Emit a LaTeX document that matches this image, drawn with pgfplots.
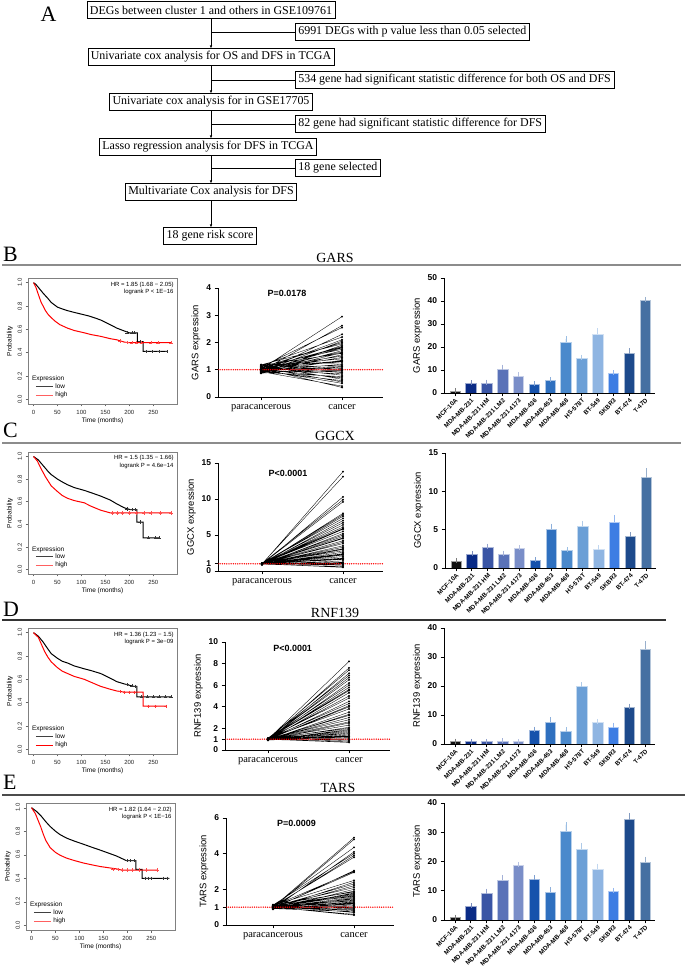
\documentclass[border=0pt]{standalone}
\usepackage{pgfplots}
\pgfplotsset{compat=1.18}
\usepackage{fontspec}
\setmainfont{Liberation Serif}
\setsansfont{Liberation Sans}
\usetikzlibrary{arrows.meta}
\definecolor{c1}{HTML}{111111}
\definecolor{c2}{HTML}{0A2B86}
\definecolor{c3}{HTML}{3A55A5}
\definecolor{c4}{HTML}{5A72B8}
\definecolor{c5}{HTML}{7A8EC8}
\definecolor{c6}{HTML}{1652AC}
\definecolor{c7}{HTML}{2F70BF}
\definecolor{c8}{HTML}{4A89CC}
\definecolor{c9}{HTML}{6B9FD6}
\definecolor{c10}{HTML}{8FB5E2}
\definecolor{c11}{HTML}{3D7DE3}
\definecolor{c12}{HTML}{1D4A8C}
\definecolor{c13}{HTML}{4570A2}
\definecolor{lightred}{HTML}{FF6060}
\pgfplotsset{
 /pgf/number format/assume math mode=true,
 km/.style={scale only axis, width=149bp, anchor=south west,
  xmin=-11.5, xmax=299.5, ymin=-0.04, ymax=1.04,
  xtick={0,50,100,150,200,250}, ytick={0,0.2,0.4,0.6,0.8,1},
  xtick pos=bottom, ytick pos=left,
  tick label style={font=\sffamily\fontsize{6}{6}\selectfont, text=black!85},
  yticklabel style={rotate=90, anchor=south, /pgf/number format/fixed, /pgf/number format/fixed zerofill, /pgf/number format/precision=1},
  axis line style={black!50, line width=0.5pt},
  tick style={black!60, line width=0.4pt},
  tick align=outside, major tick length=2.5bp,
  xlabel={Time (months)}, ylabel={Probability},
  label style={font=\sffamily\fontsize{6.5}{7}\selectfont},
  xlabel style={yshift=3bp}, ylabel style={yshift=-2bp},
  legend style={at={(0.04,0.02)}, anchor=south west, draw=none, fill=none, font=\sffamily\fontsize{6.5}{7}\selectfont, row sep=-1.5pt, inner sep=1pt},
  legend cell align=left},
 pair/.style={scale only axis, anchor=south west,
  axis x line*=bottom, axis y line*=left,
  axis line style={line width=0.9pt},
  xtick={0,1}, xticklabels={paracancerous,cancer},
  x tick label style={font=\rmfamily\fontsize{10.5}{11}\selectfont, yshift=-1bp},
  y tick label style={font=\sffamily\bfseries\fontsize{8.5}{9}\selectfont},
  tick align=outside, major tick length=3.5bp, tick style={black, line width=0.9pt},
  ylabel style={font=\sffamily\fontsize{9.5}{10}\selectfont, yshift=-1bp}},
 bars/.style={scale only axis, anchor=south west, width=211bp, xmin=-0.695, xmax=12.63, ymin=0,
  axis x line*=bottom, axis y line*=left,
  axis line style={line width=0.9pt},
  tick align=outside, major tick length=3.5bp, tick style={black, line width=0.9pt},
  xtick={0,...,12},
  xticklabels={MCF-10A,MDA-MB-231,MDA-MB-231 HM,MDA-MB-231 LM2,MDA-MB-231 4173,MDA-MB-436,MDA-MB-453,MDA-MB-468,HS-578T,BT-549,SKBR3,BT-474,T-47D},
  x tick label style={rotate=45, anchor=north east, font=\sffamily\bfseries\fontsize{6.3}{7}\selectfont, inner sep=1pt},
  y tick label style={font=\sffamily\bfseries\fontsize{8.5}{9}\selectfont},
  ylabel style={font=\sffamily\fontsize{9.5}{10}\selectfont, yshift=-1bp}}
}
\tikzset{refline/.style={draw=red, line width=1.5pt, line cap=round, dash pattern=on 0pt off 2.2pt}}
\newcommand{\bb}[4]{\addplot[ybar, bar shift=0pt, bar width=10.5bp, fill=#1, draw=#1!40!white, line width=0.5pt, error bars/.cd, y dir=plus, y explicit, error bar style={draw=#1!55!white, line width=0.7pt}, error mark options={draw=#1!55!white, line width=0.7pt, mark size=2.5bp}] coordinates {(#2,#3) +- (0,#4)};}
\begin{document}
\begin{tikzpicture}[x=1bp,y=1bp]
\path[use as bounding box] (0,0) rectangle (685,970);
% ---------- Panel A flowchart
\tikzset{fbox/.style={draw, line width=0.6pt, inner xsep=3bp, inner ysep=0pt, minimum height=17bp, font=\rmfamily\fontsize{12}{14}\selectfont},
 arr/.style={-{Latex[length=3bp,width=2.5bp]}, line width=0.6pt}}
\node[anchor=base west, font=\rmfamily\fontsize{22}{22}\selectfont] at (37,948) {A};
\node[fbox] (b1) at (211,960) {DEGs between cluster 1 and others in GSE109761};
\node[fbox, anchor=west] (b2) at (295,938) {6991 DEGs with p value less than 0.05 selected};
\node[fbox] (b3) at (211,913) {Univariate cox analysis for OS and DFS in TCGA};
\node[fbox, anchor=west] (b4) at (295,890) {534 gene had significant statistic difference for both OS and DFS};
\node[fbox] (b5) at (211,868) {Univariate cox analysis for in GSE17705};
\node[fbox, anchor=west] (b6) at (295,846) {82 gene had significant statistic difference for DFS};
\node[fbox] (b7) at (208,823) {Lasso regression analysis for DFS in TCGA};
\node[fbox, anchor=west] (b8) at (295,802) {18 gene selected};
\node[fbox] (b9) at (211,778) {Multivariate Cox analysis for DFS};
\node[fbox] (b10) at (210,734) {18 gene risk score};
\draw[arr] (211,951.5) -- (211,921.5);
\draw[arr] (211,904.5) -- (211,876.5);
\draw[arr] (211,859.5) -- (211,831.5);
\draw[arr] (211,814.5) -- (211,786.5);
\draw[arr] (211,769.5) -- (211,742.5);
\draw[line width=0.6pt] (211,938) -- (b2.west);
\draw[line width=0.6pt] (211,890) -- (b4.west);
\draw[line width=0.6pt] (211,846) -- (b6.west);
\draw[line width=0.6pt] (211,802) -- (b8.west);
% ---------- section headers
\tikzset{sep/.style={line width=1.3pt}, gt/.style={anchor=south, font=\rmfamily\fontsize{14}{14}\selectfont, inner sep=1.5bp}, pl/.style={anchor=base west, font=\rmfamily\fontsize{22}{22}\selectfont, inner sep=0pt}}
\draw[sep, black!45] (2,705) -- (681,705);
\node[gt] at (335,705.5) {GARS};
\node[pl] at (3,708) {B};
\draw[sep, black!45] (2,527) -- (681,527);
\node[gt] at (335,527.5) {GGCX};
\node[pl] at (3,532) {C};
\draw[sep, black!80] (2,350) -- (666,350);
\node[gt] at (335,350.5) {RNF139};
\node[pl] at (3,353) {D};
\draw[sep, black!70] (2,175) -- (685,175);
\node[gt] at (338,175.5) {TARS};
\node[pl] at (3,180) {E};
% ================= B =================
\begin{axis}[km, at={(28bp,566bp)}, height=126bp]
\addlegendimage{black!75, line width=0.8pt}
\addlegendimage{lightred, line width=1.2pt}
\addplot[black, line width=1pt] coordinates {(0,1) (5,0.985) (10,0.96) (15,0.935) (20,0.91) (30,0.865) (37,0.83) (50,0.79) (60,0.775) (71,0.76) (85,0.745) (100,0.73) (115,0.715) (130,0.695) (140,0.68) (150,0.66) (160,0.64) (174,0.61) (190,0.585) (200,0.57) (217,0.57) (217,0.495) (229,0.495) (229,0.41) (280,0.41)};
\addplot[red, line width=1pt] coordinates {(0,1) (5,0.96) (10,0.9) (16,0.83) (20,0.8) (25,0.76) (30,0.73) (37,0.70) (45,0.67) (55,0.64) (71,0.61) (85,0.59) (106,0.57) (120,0.555) (140,0.54) (160,0.52) (174,0.51) (190,0.49) (200,0.485) (288,0.485)};
\addplot[only marks, mark=+, mark size=1.6bp, black!80] coordinates {(195,0.57) (205,0.57) (210,0.57) (222,0.495) (236,0.41) (248,0.41) (262,0.41) (278,0.41)};
\addplot[only marks, mark=+, mark size=1.6bp, red!70] coordinates {(180,0.5) (195,0.487) (205,0.485) (215,0.485) (225,0.485) (245,0.485) (260,0.485) (287,0.485)};
\legend{low,high}
\node[anchor=north east, align=right, font=\sffamily\fontsize{6}{7.5}\selectfont, inner sep=1pt] at (rel axis cs:0.985,0.98) {HR = 1.85 (1.68 − 2.05)\\logrank P < 1E−16};
\node[anchor=west, font=\sffamily\fontsize{6.5}{7}\selectfont, inner sep=1pt] at (rel axis cs:0.02,0.2) {Expression};
\end{axis}
\begin{axis}[pair, at={(218bp,573bp)}, width=165bp, height=109bp, xmin=-0.531, xmax=1.506, ymin=0, ymax=4, ytick={0,1,2,3,4}, ylabel={GARS expression}]
\addplot[black, line width=0.35pt, mark=*, mark size=0.8bp, mark options={solid}, unbounded coords=jump] coordinates {
(0,1.02) (1,2.95) (0,nan) (0,0.95) (1,2.62) (0,nan) (0,1.10) (1,2.55) (0,nan) (0,0.90) (1,2.30) (0,nan)
(0,1.15) (1,2.20) (0,nan) (0,1.00) (1,2.10) (0,nan) (0,0.92) (1,2.05) (0,nan) (0,1.08) (1,2.00) (0,nan)
(0,1.18) (1,1.95) (0,nan) (0,0.88) (1,1.90) (0,nan) (0,1.05) (1,1.85) (0,nan) (0,0.97) (1,1.80) (0,nan)
(0,1.12) (1,1.75) (0,nan) (0,0.93) (1,1.70) (0,nan) (0,1.03) (1,1.65) (0,nan) (0,1.16) (1,1.60) (0,nan)
(0,0.89) (1,1.55) (0,nan) (0,1.07) (1,1.50) (0,nan) (0,0.98) (1,1.45) (0,nan) (0,1.13) (1,1.40) (0,nan)
(0,0.91) (1,1.35) (0,nan) (0,1.04) (1,1.30) (0,nan) (0,1.19) (1,1.25) (0,nan) (0,0.96) (1,1.20) (0,nan)
(0,1.09) (1,1.15) (0,nan) (0,0.87) (1,1.10) (0,nan) (0,1.01) (1,1.05) (0,nan) (0,1.14) (1,1.00) (0,nan)
(0,0.94) (1,0.95) (0,nan) (0,1.06) (1,0.90) (0,nan) (0,0.99) (1,0.85) (0,nan) (0,1.11) (1,0.80) (0,nan)
(0,0.90) (1,0.75) (0,nan) (0,1.03) (1,0.70) (0,nan) (0,1.17) (1,0.65) (0,nan) (0,0.95) (1,0.60) (0,nan)
(0,1.08) (1,0.55) (0,nan) (0,1.00) (1,0.50) (0,nan) (0,0.93) (1,0.40) (0,nan) (0,1.05) (1,0.35) (0,nan)
(0,0.97) (1,1.12) (0,nan) (0,1.10) (1,1.32) (0,nan) (0,0.92) (1,1.62) (0,nan) (0,1.06) (1,1.82) (0,nan)
(0,1.01) (1,0.98)};
\addplot[refline] coordinates {(-0.531,1) (1.506,1)};
\node[font=\sffamily\bfseries\fontsize{9}{10}\selectfont] at (rel axis cs:0.418,0.954) {P=0.0178};
\end{axis}
\begin{axis}[bars, at={(444bp,577bp)}, height=115bp, ymax=50, ytick={0,10,20,30,40,50}, ylabel={GARS expression}]
\bb{c1}{0}{0.8}{0.3}
\bb{c2}{1}{4.2}{0.3}
\bb{c3}{2}{4.3}{0.4}
\bb{c4}{3}{10.5}{0.7}
\bb{c5}{4}{7.3}{0.7}
\bb{c6}{5}{3.8}{0.2}
\bb{c7}{6}{5.5}{0.3}
\bb{c8}{7}{22.1}{1.4}
\bb{c9}{8}{15.3}{0.3}
\bb{c10}{9}{25.7}{1.3}
\bb{c11}{10}{8.5}{0.3}
\bb{c12}{11}{17.1}{1.3}
\bb{c13}{12}{40.2}{0.5}
\end{axis}
% ================= C =================
\begin{axis}[km, at={(28bp,396bp)}, height=122bp]
\addlegendimage{black!75, line width=0.8pt}
\addlegendimage{lightred, line width=1.2pt}
\addplot[black, line width=1pt] coordinates {(0,1) (10,0.97) (20,0.92) (30,0.87) (37,0.84) (50,0.80) (60,0.775) (71,0.75) (85,0.725) (106,0.70) (120,0.68) (140,0.65) (160,0.615) (174,0.58) (190,0.545) (202,0.53) (216,0.53) (216,0.42) (229,0.42) (229,0.28) (262,0.28)};
\addplot[red, line width=1pt] coordinates {(0,1) (8,0.96) (16,0.89) (25,0.82) (37,0.74) (50,0.69) (60,0.655) (71,0.63) (85,0.61) (106,0.59) (120,0.56) (140,0.525) (161,0.50) (288,0.50)};
\addplot[only marks, mark=+, mark size=1.6bp, black!80] coordinates {(195,0.535) (205,0.53) (212,0.53) (222,0.42) (240,0.28) (255,0.28) (262,0.28)};
\addplot[only marks, mark=+, mark size=1.6bp, red!70] coordinates {(165,0.5) (175,0.5) (185,0.5) (200,0.5) (215,0.5) (230,0.5) (245,0.5) (265,0.5) (287,0.5)};
\legend{low,high}
\node[anchor=north east, align=right, font=\sffamily\fontsize{6}{7.5}\selectfont, inner sep=1pt] at (rel axis cs:0.985,0.98) {HR = 1.5 (1.35 − 1.66)\\logrank P = 4.6e−14};
\node[anchor=west, font=\sffamily\fontsize{6.5}{7}\selectfont, inner sep=1pt] at (rel axis cs:0.02,0.2) {Expression};
\end{axis}
\begin{axis}[pair, at={(218bp,399bp)}, width=165bp, height=108bp, xmin=-0.543, xmax=1.494, ymin=0, ymax=15, ytick={0,1,5,10,15}, ylabel={GGCX expression}]
\addplot[black, line width=0.35pt, mark=*, mark size=0.8bp, mark options={solid}, unbounded coords=jump] coordinates {
(0,0.95) (1,13.8) (0,nan) (0,1.00) (1,13.1) (0,nan) (0,0.90) (1,10.3) (0,nan) (0,1.05) (1,9.9) (0,nan)
(0,0.98) (1,9.6) (0,nan) (0,0.92) (1,8.0) (0,nan) (0,1.02) (1,7.8) (0,nan) (0,0.96) (1,7.6) (0,nan)
(0,1.08) (1,7.3) (0,nan) (0,0.90) (1,7.0) (0,nan) (0,1.00) (1,6.7) (0,nan) (0,0.94) (1,6.4) (0,nan)
(0,1.04) (1,6.1) (0,nan) (0,0.97) (1,5.8) (0,nan) (0,1.06) (1,5.5) (0,nan) (0,0.91) (1,5.2) (0,nan)
(0,1.01) (1,5.0) (0,nan) (0,0.95) (1,4.8) (0,nan) (0,1.03) (1,4.5) (0,nan) (0,0.99) (1,4.2) (0,nan)
(0,0.93) (1,4.0) (0,nan) (0,1.05) (1,3.8) (0,nan) (0,0.97) (1,3.5) (0,nan) (0,1.00) (1,3.3) (0,nan)
(0,0.92) (1,3.0) (0,nan) (0,1.07) (1,2.8) (0,nan) (0,0.96) (1,2.6) (0,nan) (0,1.02) (1,2.4) (0,nan)
(0,0.94) (1,2.2) (0,nan) (0,1.00) (1,2.0) (0,nan) (0,0.98) (1,1.8) (0,nan) (0,1.04) (1,1.6) (0,nan)
(0,0.93) (1,1.4) (0,nan) (0,1.01) (1,1.2) (0,nan) (0,0.97) (1,1.0) (0,nan) (0,1.03) (1,0.8) (0,nan)
(0,0.95) (1,0.6) (0,nan) (0,1.00) (1,0.5) (0,nan) (0,0.96) (1,4.6) (0,nan) (0,1.02) (1,3.1) (0,nan)
(0,0.99) (1,2.3) (0,nan) (0,0.94) (1,1.7) (0,nan) (0,1.05) (1,5.9) (0,nan) (0,0.98) (1,1.1) (0,nan)
(0,1.01) (1,0.9)};
\addplot[refline] coordinates {(-0.543,1) (1.494,1)};
\node[font=\sffamily\bfseries\fontsize{9}{10}\selectfont] at (rel axis cs:0.424,0.907) {P<0.0001};
\end{axis}
\begin{axis}[bars, at={(445bp,402bp)}, height=115bp, ymax=15, ytick={0,5,10,15}, ylabel={GGCX expression}]
\bb{c1}{0}{0.9}{0.05}
\bb{c2}{1}{1.8}{0.05}
\bb{c3}{2}{2.65}{0.2}
\bb{c4}{3}{1.85}{0.1}
\bb{c5}{4}{2.6}{0.1}
\bb{c6}{5}{1.0}{0.1}
\bb{c7}{6}{5.1}{0.35}
\bb{c8}{7}{2.3}{0.1}
\bb{c9}{8}{5.45}{0.4}
\bb{c10}{9}{2.5}{0.15}
\bb{c11}{10}{6.0}{0.6}
\bb{c12}{11}{4.1}{0.25}
\bb{c13}{12}{11.8}{0.9}
\end{axis}
% ================= D =================
\begin{axis}[km, at={(28bp,216bp)}, height=126bp]
\addlegendimage{black!75, line width=0.8pt}
\addlegendimage{red, line width=1.2pt}
\addplot[black, line width=1pt] coordinates {(0,1) (10,0.97) (20,0.92) (30,0.86) (37,0.82) (50,0.78) (60,0.755) (71,0.74) (85,0.715) (106,0.69) (120,0.675) (140,0.65) (160,0.61) (174,0.58) (190,0.56) (209,0.54) (216,0.54) (216,0.45) (288,0.45)};
\addplot[red, line width=1pt] coordinates {(0,1) (10,0.96) (23,0.84) (30,0.79) (37,0.75) (50,0.70) (60,0.67) (71,0.65) (85,0.625) (106,0.60) (120,0.575) (140,0.54) (160,0.515) (174,0.50) (190,0.49) (229,0.49) (229,0.37) (277,0.37)};
\addplot[only marks, mark=+, mark size=1.6bp, black!80] coordinates {(195,0.555) (205,0.545) (212,0.54) (225,0.45) (238,0.45) (250,0.45) (262,0.45) (275,0.45) (287,0.45)};
\addplot[only marks, mark=+, mark size=1.6bp, red!80] coordinates {(180,0.495) (190,0.49) (200,0.49) (210,0.49) (240,0.37) (255,0.37) (276,0.37)};
\legend{low,high}
\node[anchor=north east, align=right, font=\sffamily\fontsize{6}{7.5}\selectfont, inner sep=1pt] at (rel axis cs:0.985,0.98) {HR = 1.36 (1.23 − 1.5)\\logrank P = 3e−09};
\node[anchor=west, font=\sffamily\fontsize{6.5}{7}\selectfont, inner sep=1pt] at (rel axis cs:0.02,0.2) {Expression};
\end{axis}
\begin{axis}[pair, at={(225bp,220bp)}, width=165bp, height=108bp, xmin=-0.531, xmax=1.506, ymin=0, ymax=10, ytick={0,1,2,4,6,8,10}, ylabel={RNF139 expression}]
\addplot[black, line width=0.35pt, mark=*, mark size=0.8bp, mark options={solid}, unbounded coords=jump] coordinates {
(0,1.00) (1,8.2) (0,nan) (0,0.95) (1,7.6) (0,nan) (0,1.05) (1,7.4) (0,nan) (0,0.90) (1,7.1) (0,nan)
(0,1.10) (1,6.9) (0,nan) (0,0.98) (1,6.7) (0,nan) (0,1.02) (1,6.5) (0,nan) (0,0.93) (1,6.2) (0,nan)
(0,1.07) (1,6.0) (0,nan) (0,0.96) (1,5.8) (0,nan) (0,1.04) (1,5.5) (0,nan) (0,0.91) (1,5.3) (0,nan)
(0,1.00) (1,5.0) (0,nan) (0,1.08) (1,4.8) (0,nan) (0,0.95) (1,4.5) (0,nan) (0,1.03) (1,4.3) (0,nan)
(0,0.97) (1,4.0) (0,nan) (0,1.06) (1,3.8) (0,nan) (0,0.92) (1,3.5) (0,nan) (0,1.01) (1,3.2) (0,nan)
(0,0.99) (1,3.0) (0,nan) (0,1.04) (1,2.8) (0,nan) (0,0.94) (1,2.5) (0,nan) (0,1.02) (1,2.3) (0,nan)
(0,0.97) (1,2.1) (0,nan) (0,1.05) (1,2.0) (0,nan) (0,0.93) (1,1.9) (0,nan) (0,1.00) (1,1.8) (0,nan)
(0,0.96) (1,1.6) (0,nan) (0,1.03) (1,1.5) (0,nan) (0,0.98) (1,1.4) (0,nan) (0,1.06) (1,1.3) (0,nan)
(0,0.92) (1,1.2) (0,nan) (0,1.01) (1,1.1) (0,nan) (0,0.95) (1,1.0) (0,nan) (0,1.04) (1,0.9) (0,nan)
(0,0.97) (1,0.8) (0,nan) (0,1.00) (1,0.7) (0,nan) (0,0.94) (1,3.3) (0,nan) (0,1.02) (1,2.6) (0,nan)
(0,0.99) (1,1.7) (0,nan) (0,1.05) (1,5.6) (0,nan) (0,0.96) (1,4.1) (0,nan) (0,1.00) (1,1.25)};
\addplot[refline] coordinates {(-0.531,1) (1.506,1)};
\node[font=\sffamily\bfseries\fontsize{9}{10}\selectfont] at (rel axis cs:0.41,0.944) {P<0.0001};
\end{axis}
\begin{axis}[bars, at={(444bp,226bp)}, height=116bp, ymax=40, ytick={0,10,20,30,40}, ylabel={RNF139 expression}]
\bb{c1}{0}{0.9}{0.1}
\bb{c2}{1}{0.8}{0.1}
\bb{c3}{2}{0.8}{0.1}
\bb{c4}{3}{1.0}{0.1}
\bb{c5}{4}{0.8}{0.1}
\bb{c6}{5}{4.8}{0.35}
\bb{c7}{6}{7.6}{0.7}
\bb{c8}{7}{4.5}{0.4}
\bb{c9}{8}{20.0}{0.45}
\bb{c10}{9}{7.6}{0.2}
\bb{c11}{10}{5.9}{0.6}
\bb{c12}{11}{12.7}{0.35}
\bb{c13}{12}{32.7}{1.8}
\end{axis}
% ================= E =================
\begin{axis}[km, at={(26bp,40bp)}, height=127bp]
\addlegendimage{black!75, line width=0.8pt}
\addlegendimage{lightred, line width=1.2pt}
\addplot[black, line width=1pt] coordinates {(0,1) (10,0.97) (20,0.93) (30,0.88) (39,0.84) (50,0.80) (60,0.77) (74,0.74) (90,0.715) (108,0.69) (125,0.665) (143,0.64) (160,0.615) (177,0.59) (198,0.55) (218,0.55) (218,0.475) (231,0.475) (231,0.40) (288,0.40)};
\addplot[red, line width=1pt] coordinates {(0,1) (8,0.95) (14,0.89) (19,0.84) (25,0.77) (30,0.72) (39,0.66) (50,0.62) (60,0.595) (74,0.57) (90,0.55) (108,0.53) (125,0.515) (143,0.50) (160,0.49) (177,0.48) (188,0.47) (262,0.47)};
\addplot[only marks, mark=+, mark size=1.6bp, black!80] coordinates {(200,0.55) (207,0.55) (214,0.55) (224,0.475) (238,0.40) (244,0.40) (250,0.40) (275,0.40) (284,0.40)};
\addplot[only marks, mark=+, mark size=1.6bp, red!70] coordinates {(170,0.475) (180,0.475) (190,0.47) (200,0.47) (210,0.47) (225,0.47) (240,0.47) (262,0.47)};
\legend{low,high}
\node[anchor=north east, align=right, font=\sffamily\fontsize{6}{7.5}\selectfont, inner sep=1pt] at (rel axis cs:0.985,0.98) {HR = 1.82 (1.64 − 2.02)\\logrank P < 1E−16};
\node[anchor=west, font=\sffamily\fontsize{6.5}{7}\selectfont, inner sep=1pt] at (rel axis cs:0.02,0.2) {Expression};
\end{axis}
\begin{axis}[pair, at={(226bp,45bp)}, width=168bp, height=107bp, xmin=-0.58, xmax=1.494, ymin=0, ymax=6, ytick={0,1,2,4,6}, ylabel={TARS expression}]
\addplot[black, line width=0.35pt, mark=*, mark size=0.8bp, mark options={solid}, unbounded coords=jump] coordinates {
(0,1.00) (1,4.90) (0,nan) (0,0.95) (1,4.80) (0,nan) (0,1.08) (1,4.35) (0,nan) (0,0.90) (1,4.10) (0,nan)
(0,1.12) (1,4.00) (0,nan) (0,0.98) (1,3.90) (0,nan) (0,1.03) (1,3.80) (0,nan) (0,0.93) (1,3.05) (0,nan)
(0,1.06) (1,3.00) (0,nan) (0,0.97) (1,2.95) (0,nan) (0,1.10) (1,2.50) (0,nan) (0,0.92) (1,2.40) (0,nan)
(0,1.02) (1,2.30) (0,nan) (0,0.96) (1,2.20) (0,nan) (0,1.05) (1,2.10) (0,nan) (0,0.88) (1,2.00) (0,nan)
(0,1.00) (1,1.90) (0,nan) (0,1.14) (1,1.85) (0,nan) (0,0.94) (1,1.80) (0,nan) (0,1.04) (1,1.70) (0,nan)
(0,0.99) (1,1.65) (0,nan) (0,1.09) (1,1.60) (0,nan) (0,0.91) (1,1.50) (0,nan) (0,1.01) (1,1.45) (0,nan)
(0,0.95) (1,1.40) (0,nan) (0,1.07) (1,1.35) (0,nan) (0,0.97) (1,1.30) (0,nan) (0,1.03) (1,1.25) (0,nan)
(0,0.90) (1,1.20) (0,nan) (0,1.11) (1,1.15) (0,nan) (0,0.98) (1,1.10) (0,nan) (0,1.02) (1,1.05) (0,nan)
(0,0.94) (1,1.00) (0,nan) (0,1.06) (1,0.95) (0,nan) (0,1.00) (1,0.90) (0,nan) (0,0.96) (1,0.85) (0,nan)
(0,1.04) (1,0.80) (0,nan) (0,0.92) (1,0.75) (0,nan) (0,1.08) (1,0.70) (0,nan) (0,0.99) (1,0.60) (0,nan)
(0,1.01) (1,0.55) (0,nan) (0,0.97) (1,1.55) (0,nan) (0,1.05) (1,1.75) (0,nan) (0,0.93) (1,1.22)};
\addplot[refline] coordinates {(-0.58,1) (1.494,1)};
\node[font=\sffamily\bfseries\fontsize{9}{10}\selectfont] at (rel axis cs:0.42,0.953) {P=0.0009};
\end{axis}
\begin{axis}[bars, at={(444bp,50bp)}, height=117bp, ymax=40, ytick={0,10,20,30,40}, ylabel={TARS expression}]
\bb{c1}{0}{0.8}{0.2}
\bb{c2}{1}{4.6}{0.3}
\bb{c3}{2}{9.1}{0.8}
\bb{c4}{3}{13.7}{0.8}
\bb{c5}{4}{18.7}{0.3}
\bb{c6}{5}{14.1}{0.4}
\bb{c7}{6}{9.5}{0.9}
\bb{c8}{7}{30.3}{2.3}
\bb{c9}{8}{24.2}{1.3}
\bb{c10}{9}{17.5}{0.9}
\bb{c11}{10}{9.7}{0.4}
\bb{c12}{11}{34.3}{1.5}
\bb{c13}{12}{19.7}{1.1}
\end{axis}
\end{tikzpicture}
\end{document}
